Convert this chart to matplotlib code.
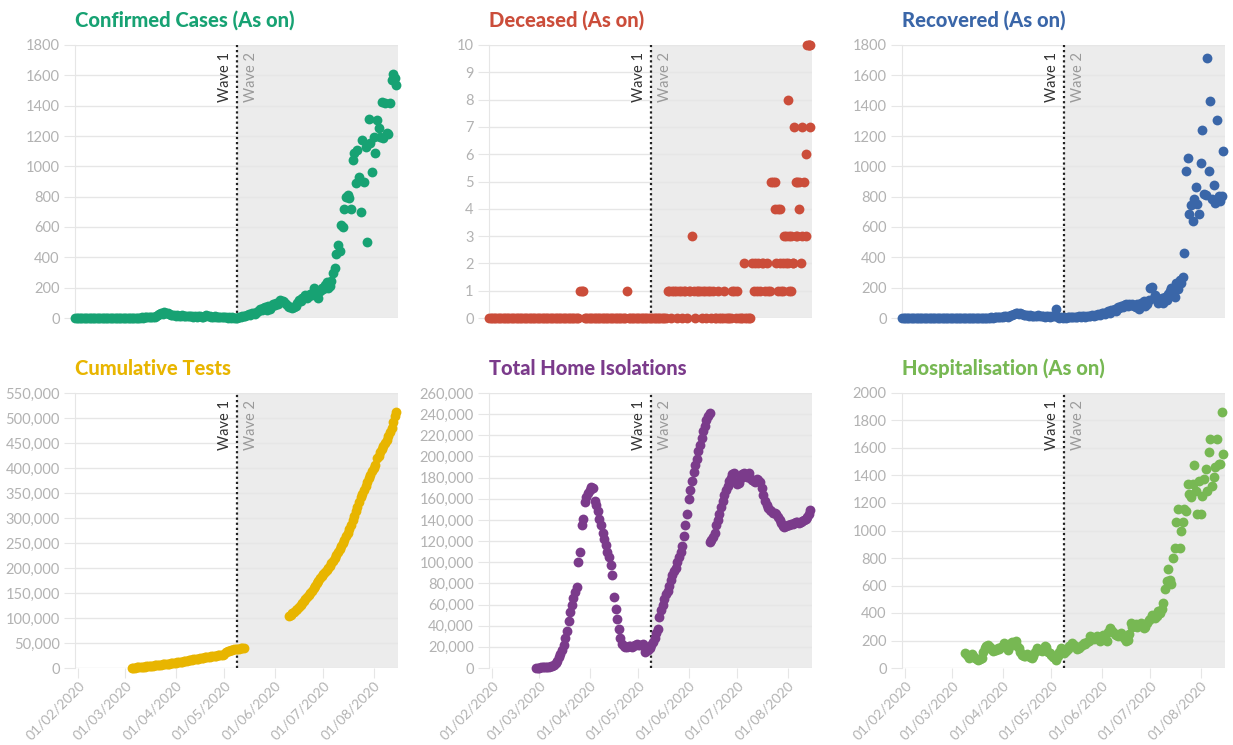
#%%
import numpy as np
import pandas as pd
import matplotlib.pyplot as plt
import matplotlib.dates as mdates
from matplotlib.ticker import FuncFormatter

plt.rcParams['font.family'] = ['Lato', 'DejaVu Sans']

#%% Data (one value per day unless said otherwise)
x_start = '2020-01-30'
x_end = '2020-08-16'
wave2_start = '2020-05-09'
month_ticks = ['2020-02-01', '2020-03-01', '2020-04-01', '2020-05-01',
               '2020-06-01', '2020-07-01', '2020-08-01']

confirmed_start = '2020-01-30'
confirmed = [
    0, 0, 0, 0, 0, 0, 0, 0, 0, 0, 0, 0, 0, 0, 0, 0, 0, 0, 0, 0,
    0, 0, 0, 0, 0, 0, 0, 0, 0, 0, 0, 0, 0, 0, 0,
    1, 0, 2, 1, 3, 2, 4, 3, 5, 4, 6, 5, 8, 7, 6,
    12, 18, 25, 30, 28, 40, 35, 32, 24, 20, 22,
    18, 16, 20, 15, 14, 17, 12, 13, 15, 11, 10, 14, 9, 12, 8, 10, 13, 7, 9, 11,
    22, 15, 12, 9, 8, 10, 6, 7, 9, 5, 8,
    4, 6, 3, 5, 2, 4, 3,
    0, 3, 8, 5, 12, 15, 10, 20, 25, 18, 30, 35, 28, 40,
    45, 60, 50, 65, 70, 55, 80, 60, 75, 90, 85, 100, 95, 120,
    115, 110, 105, 90, 80, 70, 75, 65, 70, 80, 100, 120, 110, 130,
    140, 150, 135, 145, 160, 150, 196, 170, 160, 130, 180, 200, 190, 220,
    240, 196, 210,
    245, 300, 330, 420, 480, 440, 610, 600, 720, 800, 810, 790, 720, 1040,
    1086, 888, 1108, 932, 700, 1174, 898, 1130, 503, 1311, 1152, 965, 1196,
    1086, 1305, 1250, 1196, 1425, 1185, 1420, 1218, 1210, 1420, 1568, 1611,
    1580, 1535,
]

deceased_start = '2020-01-30'
deceased = [
    0, 0, 0, 0, 0, 0, 0, 0, 0, 0, 0, 0, 0, 0, 0, 0, 0, 0, 0, 0,
    0, 0, 0, 0, 0, 0, 0, 0, 0, 0, 0, 0, 0, 0, 0, 0, 0, 0, 0, 0,
    0, 0, 0, 0, 0, 0, 0, 0, 0, 0, 0, 0, 0, 0, 0, 0,
    1, 1, 1,
    0, 0, 0, 0, 0, 0, 0, 0, 0, 0, 0, 0, 0, 0, 0, 0, 0, 0, 0, 0,
    0, 0, 0, 0, 0, 0,
    1,
    0, 0, 0, 0, 0, 0, 0, 0, 0, 0, 0, 0, 0, 0, 0, 0, 0, 0, 0, 0,
    0, 0, 0, 0,
    1, 1, 0, 1, 1, 1, 0, 1, 1, 0, 1, 1, 0, 1, 1, 3, 1, 0, 1, 1,
    1, 0, 1, 1, 0, 1, 1, 0, 1, 0, 0, 1, 0, 0, 0, 1, 0, 0, 0, 0,
    1, 1, 0, 1,
    0, 0, 0, 2, 0, 0, 0, 0,
    2, 1, 2, 1, 2, 1, 2, 2, 1, 2, 1, 1,
    5, 5, 4, 2, 4, 2, 1, 2, 3, 2, 8, 3, 1, 2, 7, 5, 3, 4, 2, 7,
    5, 6, 10, 10, 7,
]
# second reports on the same day
deceased_extra_dates = ['2020-07-24', '2020-07-26', '2020-07-27', '2020-07-29',
                        '2020-07-31', '2020-08-01', '2020-08-02', '2020-08-03',
                        '2020-08-04', '2020-08-06', '2020-08-07', '2020-08-08',
                        '2020-08-10', '2020-08-12', '2020-08-14', '2020-08-15']
deceased_extra = [5, 1, 4, 1, 3, 2, 1, 3, 2, 3, 5, 5, 3, 3, 10, 10]

recovered_start = '2020-01-30'
recovered = [
    0, 0, 0, 0, 0, 0, 0, 0, 0, 0, 0, 0, 0, 0, 0, 0, 0, 0, 0, 0,
    0, 0, 0, 0, 0, 0, 0, 0, 0, 0, 0, 0, 0, 0, 0, 0, 0, 0, 0, 0,
    0, 0, 0, 0, 0, 0, 0, 0, 0, 0,
    1, 2, 1, 3, 2, 4, 3, 5, 4, 6,
    5, 8, 6, 10, 12, 9, 15, 18, 20, 25,
    30, 35, 28, 32, 25, 20, 22, 18, 15, 20,
    12, 15, 10, 14, 18, 12, 10, 15, 8, 12,
    10, 8, 12, 15, 10, 62,
    5, 3, 4, 2, 5, 3, 6, 4, 5, 8,
    6, 9, 7, 10, 8, 12, 10, 9, 14, 12,
    15, 18, 14, 20, 22, 25, 20, 30, 35, 28,
    40, 45, 35, 50, 55, 60, 45, 70, 65, 80,
    75, 85, 90, 80, 95, 85, 90, 80, 70, 95,
    60, 100, 90, 110, 80, 95, 120, 200, 205, 130,
    150, 120, 100, 110, 130, 100, 140, 120, 160, 180,
    200, 170, 140, 230, 190, 250, 230,
    270, 431, 969, 1052, 688, 743, 642, 787, 864, 754,
    688, 1022, 1237, 820, 809, 1714, 969, 1429, 787, 880,
    760, 1303, 802, 770, 802, 1100,
]

tests_start_1 = '2020-03-05'
tests_1 = [
    500, 700, 900, 1100, 1400, 1700, 2000, 2300, 2700, 3100,
    3500, 3900, 4300, 4700, 5100, 5500, 5900, 6300, 6800, 7300,
    7800, 8200, 8600, 9000, 9400, 9800, 10200, 10700, 11200, 11800,
    12400, 13000, 13600, 14200, 14800, 15400, 16000, 16600, 17200, 17800,
    18400, 19000, 19600, 20200, 20700, 21200, 21700, 22200, 22700, 23200,
    23700, 24200, 24700, 25200, 25800, 26400, 27000, 29000, 31500, 33500,
    35000, 36000, 36800, 37400, 38000, 38500, 39000, 39600, 40200, 41000,
]
tests_start_2 = '2020-06-10'
tests_2 = [
    104000, 107000, 110000, 113000, 116000, 119000, 122000, 126000, 130000, 134000,
    138000, 142000, 146000, 150000, 155000, 160000, 165000, 170000, 175000, 180000,
    184000, 188000, 193000, 197000, 201000, 205000, 210000, 215000, 220000, 226000,
    232000, 238000, 244000, 250000, 257000, 264000, 271000, 279000, 287000, 296000,
    305000, 314000, 323000, 333000, 342000, 348000, 356000, 364000, 372000, 379000,
    386000, 393000, 400000, 405000, 419000, 424000, 431000, 438000, 444000, 449000,
    455000, 463000, 471000, 480000, 492000, 503000, 512000,
]

isolation_start_1 = '2020-02-28'
isolation_1 = [
    0, 200, 400, 500, 600, 700, 800, 1000, 1200, 1500, 2000,
    3000, 5000, 7000, 10000, 13000, 17000, 22000, 28000, 35000, 44000,
    53000, 60000, 66000, 72000, 77000, 100000, 110000, 135000, 141000, 157000,
    162000, 165000, 168000, 171000, 170000, 158000, 154000, 148000, 141000, 135000,
    128000, 122000, 116000, 110000, 105000,
    97000, 88000, 67000, 56000, 46000, 37000, 28000, 23000, 21000, 20000,
    20000, 20500, 21000, 20000, 21000, 22000, 23000, 22000, 21500, 22000, 23000,
    15000, 18000, 17000, 19000, 22000, 25000, 28000, 33000, 37000,
    48000, 55000, 60000, 65000, 70000, 73000, 78000, 83000, 88000, 92000,
    95000, 100000, 105000, 110000, 115000, 125000, 135000, 146000, 160000, 168000,
    177000, 185000, 192000, 198000, 205000, 211000, 217000, 224000, 229000, 234000,
    238000, 241000,
]
isolation_start_2 = '2020-06-14'
isolation_2 = [
    119000, 121000, 124000, 128000, 135000, 140000, 146000, 152000, 158000, 164000,
    168000, 172000, 177000, 180000, 183000, 184000, 176000, 174000, 175000, 180000,
    183000, 184000, 182000, 181000, 184000, 180000, 178000, 177000, 176000, 179000,
    178000, 176000, 170000, 164000, 158000, 154000, 151000, 149000, 148000, 147000,
    147000, 146000, 143000, 140000, 137000, 134000, 133000, 134000, 135000, 135000,
    136000, 136000, 137000, 138000, 138000, 137000, 138000, 139000, 140000, 141000,
    143000, 146000, 149000,
]

hospital_start = '2020-03-09'
hospital = [
    109, 95, 73, 88, 102, 90, 75, 68, 60, 65,
    73, 120, 146, 160, 170, 150, 140, 122, 130, 128,
    146, 140, 155, 160, 182, 170, 134, 150, 185, 190,
    175, 195, 160, 146, 120, 97, 85, 90, 102, 95,
    80, 73, 90, 120, 146, 135, 128, 122, 140, 158,
    150, 120, 110, 97, 80, 70, 60, 90, 120, 146,
    130, 109, 125, 140, 160, 170, 182, 165, 150, 140,
    146, 160, 170, 182, 175, 190, 200, 231, 225, 210,
    219, 230, 225, 195, 210, 240, 220, 195, 260, 292,
    280, 260, 250, 243, 230, 240, 255, 230, 215, 200,
    207, 250, 328, 300, 316, 320, 300, 316, 330, 310,
    292, 300, 330, 350, 360, 389, 370, 365, 380, 413,
    400, 430, 474, 572, 633, 718, 640, 608, 803, 870,
    1059, 1156, 876, 998, 1059, 1156, 1144, 1339, 1266, 1242,
    1339, 1478, 1290, 1120, 1363, 1120, 1254, 1376, 1449, 1290,
    1570, 1667, 1327, 1388, 1461, 1667, 1485, 1480, 1862, 1558,
]

#%% Colours
GREEN = '#17a273'
RED = '#cb4d3a'
BLUE = '#3a66a8'
YELLOW = '#e8b500'
PURPLE = '#7b3b8b'
LIGHTGREEN = '#77b853'
GRID = '#e6e6e6'
TICKLABEL = '#b2b2b2'


def days(start, values):
    return pd.date_range(start, periods=len(values), freq='D')


def style_panel(ax, title, colour, ymax, ystep, comma=False, show_x=False):
    ax.axvspan(pd.Timestamp(wave2_start), pd.Timestamp(x_end),
               color='#ececec', zorder=0, lw=0)
    ax.axvline(pd.Timestamp(wave2_start), color='#222222', ls=(0, (1, 1.3)),
               lw=1.6, zorder=1)
    ax.annotate('Wave 1', xy=(pd.Timestamp(wave2_start), 1),
                xycoords=('data', 'axes fraction'), xytext=(-4, -5),
                textcoords='offset points', rotation=90, ha='right', va='top',
                fontsize=10.5, color='#333333')
    ax.annotate('Wave 2', xy=(pd.Timestamp(wave2_start), 1),
                xycoords=('data', 'axes fraction'), xytext=(5, -5),
                textcoords='offset points', rotation=90, ha='left', va='top',
                fontsize=10.5, color='#9a9a9a')

    ax.set_xlim(pd.Timestamp(x_start), pd.Timestamp(x_end))
    ax.set_ylim(0, ymax)
    ax.set_yticks(np.arange(0, ymax + ystep / 2, ystep))
    if comma:
        ax.yaxis.set_major_formatter(FuncFormatter(lambda v, p: f'{int(v):,}'))
    ax.set_axisbelow(True)
    ax.yaxis.grid(True, color=GRID, lw=1, zorder=0.5)
    for s in ['top', 'right', 'bottom']:
        ax.spines[s].set_visible(False)
    ax.spines['left'].set_color(GRID)
    ax.tick_params(axis='y', length=8, color=GRID, labelcolor=TICKLABEL,
                   labelsize=10.5, pad=3)

    ax.set_xticks(pd.to_datetime(month_ticks))
    ax.xaxis.set_major_formatter(mdates.DateFormatter('%d/%m/%Y'))
    if show_x:
        ax.tick_params(axis='x', length=7, color=GRID, labelcolor=TICKLABEL,
                       labelsize=10, pad=1)
        for lab in ax.get_xticklabels():
            lab.set_rotation(45)
            lab.set_ha('right')
            lab.set_rotation_mode('anchor')
    else:
        ax.tick_params(axis='x', bottom=False, labelbottom=False)

    ax.set_title(title, loc='left', color=colour, fontsize=14.5,
                 fontweight='black', pad=13)


def dots(ax, dates, values, colour):
    ax.scatter(dates, values, s=50, color=colour, lw=0, zorder=3, clip_on=False)


#%% Figure
fig = plt.figure(figsize=(12.33, 7.45), dpi=100)
W, H = 1233, 745
lefts = [75, 489, 902]
top_row = (318, 273)
bottom_row = (668, 275)


def make_ax(col, row):
    bottom, height = row
    return fig.add_axes([lefts[col] / W, 1 - bottom / H, 323 / W, height / H])


ax = make_ax(0, top_row)
dots(ax, days(confirmed_start, confirmed), confirmed, GREEN)
style_panel(ax, 'Confirmed Cases (As on)', GREEN, 1800, 200)

ax = make_ax(1, top_row)
dots(ax, days(deceased_start, deceased), deceased, RED)
dots(ax, pd.to_datetime(deceased_extra_dates), deceased_extra, RED)
style_panel(ax, 'Deceased (As on)', RED, 10, 1)

ax = make_ax(2, top_row)
dots(ax, days(recovered_start, recovered), recovered, BLUE)
style_panel(ax, 'Recovered (As on)', BLUE, 1800, 200)

ax = make_ax(0, bottom_row)
dots(ax, days(tests_start_1, tests_1), tests_1, YELLOW)
dots(ax, days(tests_start_2, tests_2), tests_2, YELLOW)
style_panel(ax, 'Cumulative Tests', YELLOW, 550000, 50000, comma=True,
            show_x=True)

ax = make_ax(1, bottom_row)
dots(ax, days(isolation_start_1, isolation_1), isolation_1, PURPLE)
dots(ax, days(isolation_start_2, isolation_2), isolation_2, PURPLE)
style_panel(ax, 'Total Home Isolations', PURPLE, 260000, 20000, comma=True,
            show_x=True)

ax = make_ax(2, bottom_row)
dots(ax, days(hospital_start, hospital), hospital, LIGHTGREEN)
style_panel(ax, 'Hospitalisation (As on)', LIGHTGREEN, 2000, 200, show_x=True)

plt.savefig('out.png', dpi=100, facecolor='white')
